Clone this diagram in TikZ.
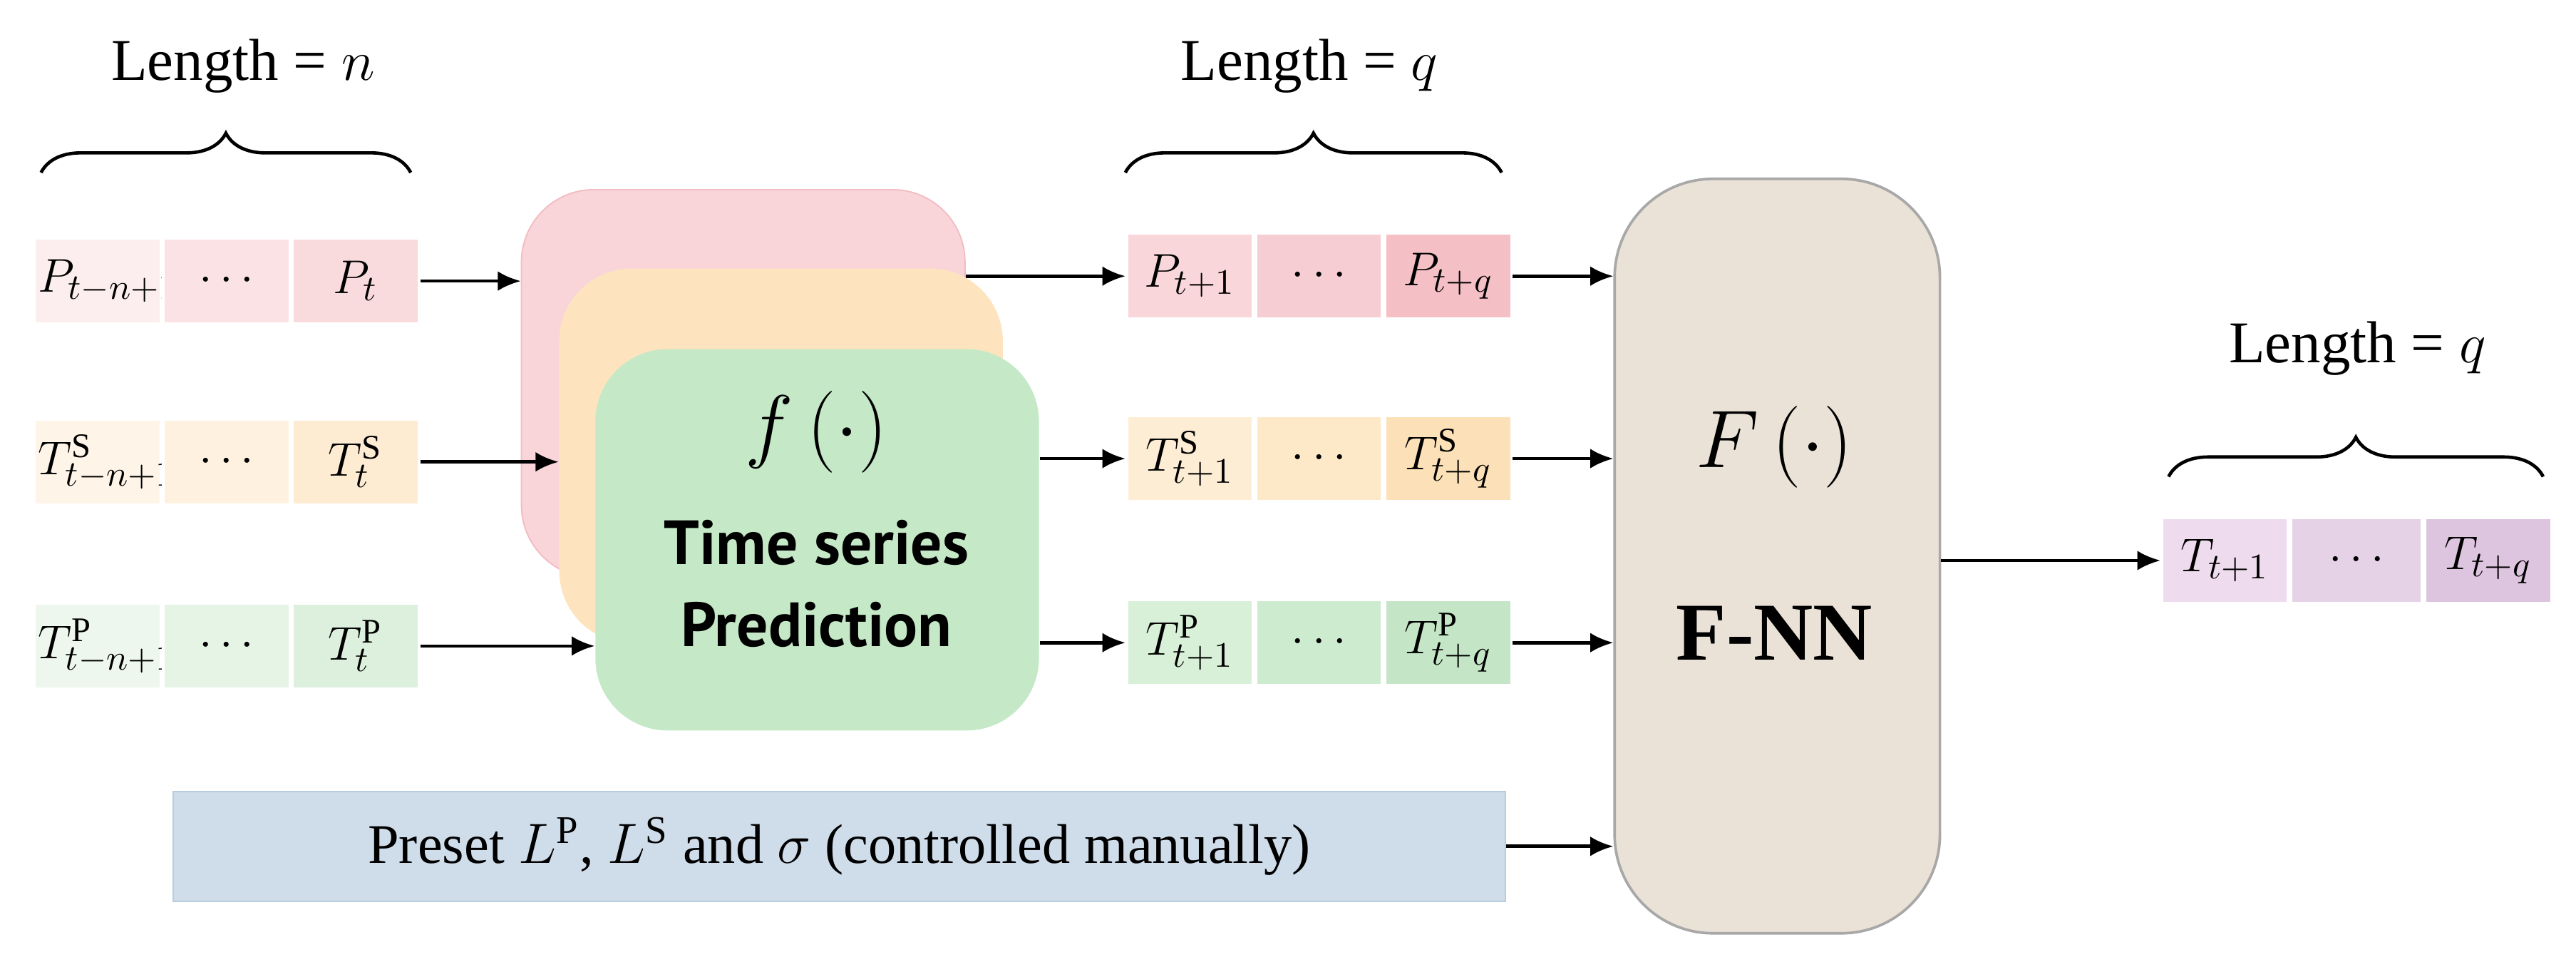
\documentclass[tikz,border=0pt]{standalone}
\usepackage{fontspec}
\setmainfont{Liberation Serif}
\newfontfamily\sansb{PT Sans}
\usetikzlibrary{decorations.pathreplacing,arrows.meta}
\definecolor{pa}{HTML}{FCEDEE}\definecolor{pb}{HTML}{FBE3E5}\definecolor{pc}{HTML}{F9DADD}
\definecolor{pd}{HTML}{F8D6DA}\definecolor{pe}{HTML}{F6CDD2}\definecolor{pf}{HTML}{F4BFC5}
\definecolor{sa}{HTML}{FEF5E8}\definecolor{sb}{HTML}{FEF1E0}\definecolor{sc}{HTML}{FDEBD2}
\definecolor{sd}{HTML}{FDEDD4}\definecolor{se}{HTML}{FDE8C8}\definecolor{sf}{HTML}{FCE1B8}
\definecolor{ga}{HTML}{EEF7EE}\definecolor{gb}{HTML}{E6F4E6}\definecolor{gc}{HTML}{DCF0DD}
\definecolor{gd}{HTML}{D8F0D8}\definecolor{ge}{HTML}{CDEBCF}\definecolor{gf}{HTML}{C4E6C6}
\definecolor{oa}{HTML}{EEDCEE}\definecolor{ob}{HTML}{E6D2E6}\definecolor{oc}{HTML}{DEC5DF}
\definecolor{boxp}{HTML}{F9D5D9}\definecolor{boxpb}{HTML}{F2BCC2}
\definecolor{boxo}{HTML}{FDE4BE}\definecolor{boxg}{HTML}{C5E8C7}
\definecolor{fnn}{HTML}{EAE2D7}\definecolor{fnnb}{HTML}{A8A8A8}
\definecolor{pre}{HTML}{CFDCEA}\definecolor{preb}{HTML}{B8CCE0}
\begin{document}
\begin{tikzpicture}[x=0.5pt,y=-0.5pt,
  cell/.style={draw=white,line width=0.8pt,minimum width=38.5pt,text width=36pt,align=center,minimum height=26pt,inner sep=0pt,font=\fontsize{15}{18}\selectfont},
  arr/.style={-{Latex[length=7pt,width=6pt]},line width=1pt},
  brace/.style={decorate,decoration={brace,amplitude=12pt},line width=1pt},
  lbl/.style={font=\fontsize{18}{22}\selectfont}]
\useasboundingbox (0,0) rectangle (1568,591);
% left cells
\node[cell,fill=pa,anchor=west] (a1) at (20,171) {$P_{t-n+1}$};
\node[cell,fill=pb,anchor=west] (a2) at (a1.east) {$\cdots$};
\node[cell,fill=pc,anchor=west] (a3) at (a2.east) {$P_{t}$};
\node[cell,fill=sa,anchor=west] (b1) at (20,281) {$T^{\mathrm{S}}_{t-n+1}$};
\node[cell,fill=sb,anchor=west] (b2) at (b1.east) {$\cdots$};
\node[cell,fill=sc,anchor=west] (b3) at (b2.east) {$T^{\mathrm{S}}_{t}$};
\node[cell,fill=ga,anchor=west] (c1) at (20,393) {$T^{\mathrm{P}}_{t-n+1}$};
\node[cell,fill=gb,anchor=west] (c2) at (c1.east) {$\cdots$};
\node[cell,fill=gc,anchor=west] (c3) at (c2.east) {$T^{\mathrm{P}}_{t}$};
% stacked boxes
\node[draw=boxpb,fill=boxp,rounded corners=22pt,minimum width=135pt,minimum height=118pt,anchor=north west] (bp) at (317,115) {};
\node[fill=boxo,rounded corners=22pt,minimum width=135pt,minimum height=114pt,anchor=north west] (bo) at (340,163) {};
\node[fill=boxg,rounded corners=22pt,minimum width=135pt,minimum height=116pt,anchor=north west] (bg) at (362,212) {};
\node at (497,263) {\fontsize{24}{28}\selectfont$f\left(\cdot\right)$};
\node[align=center,font=\sansb\bfseries\fontsize{19}{25}\selectfont] (tsp) at (497,355) {Time series\\Prediction};
% middle cells
\node[cell,fill=pd,anchor=west] (d1) at (685,168) {$P_{t+1}$};
\node[cell,fill=pe,anchor=west] (d2) at (d1.east) {$\cdots$};
\node[cell,fill=pf,anchor=west] (d3) at (d2.east) {$P_{t+q}$};
\node[cell,fill=sd,anchor=west] (e1) at (685,279) {$T^{\mathrm{S}}_{t+1}$};
\node[cell,fill=se,anchor=west] (e2) at (e1.east) {$\cdots$};
\node[cell,fill=sf,anchor=west] (e3) at (e2.east) {$T^{\mathrm{S}}_{t+q}$};
\node[cell,fill=gd,anchor=west] (g1) at (685,391) {$T^{\mathrm{P}}_{t+1}$};
\node[cell,fill=ge,anchor=west] (g2) at (g1.east) {$\cdots$};
\node[cell,fill=gf,anchor=west] (g3) at (g2.east) {$T^{\mathrm{P}}_{t+q}$};
% preset
\node[draw=preb,fill=pre,minimum width=405.5pt,minimum height=33.5pt,anchor=north west,inner sep=0pt] (pr) at (105,481) {};
\node[font=\fontsize{17}{20}\selectfont] at (pr.center) {Preset $L^{\mathrm{P}}$, $L^{\mathrm{S}}$ and $\sigma$ (controlled manually)};
% F-NN
\node[draw=fnnb,fill=fnn,line width=0.8pt,rounded corners=30pt,minimum width=99pt,minimum height=229.5pt,anchor=north west] (F) at (982,108) {};
\node at (1080,272) {\fontsize{34}{40}\selectfont$F\left(\cdot\right)$};
\node[font=\bfseries\fontsize{25}{30}\selectfont] at (1080,385) {F-NN};
% output
\node[cell,fill=oa,anchor=west] (h1) at (1315,341) {$T_{t+1}$};
\node[cell,fill=ob,anchor=west,minimum width=40pt] (h2) at (h1.east) {$\cdots$};
\node[cell,fill=oc,anchor=west] (h3) at (h2.east) {$T_{t+q}$};
% arrows
\draw[arr] (a3.east) -- (a3.east -| bp.west);
\draw[arr] (b3.east) -- (b3.east -| bo.west);
\draw[arr] (c3.east) -- (c3.east -| bg.west);
\draw[arr] (d1.west -| bp.east) -- (d1.west);
\draw[arr] (e1.west -| bg.east) -- (e1.west);
\draw[arr] (g1.west -| bg.east) -- (g1.west);
\draw[arr] (d3.east) -- (d3.east -| F.west);
\draw[arr] (e3.east) -- (e3.east -| F.west);
\draw[arr] (g3.east) -- (g3.east -| F.west);
\draw[arr] (pr.east) -- (pr.east -| F.west);
\draw[arr] (h1.west -| F.east) -- (h1.west);
% braces
\coordinate (l1) at (25,105); \coordinate (l2) at (250,105);
\draw[brace] (l1) -- (l2);
\node[lbl] at (148,40) {Length = $n$};
\coordinate (m1) at (685,105); \coordinate (m2) at (914,105);
\draw[brace] (m1) -- (m2);
\node[lbl] at (797,40) {Length = $q$};
\coordinate (r1) at (1320,290); \coordinate (r2) at (1548,290);
\draw[brace] (r1) -- (r2);
\node[lbl] at (1435,212) {Length = $q$};
\end{tikzpicture}
\end{document}
